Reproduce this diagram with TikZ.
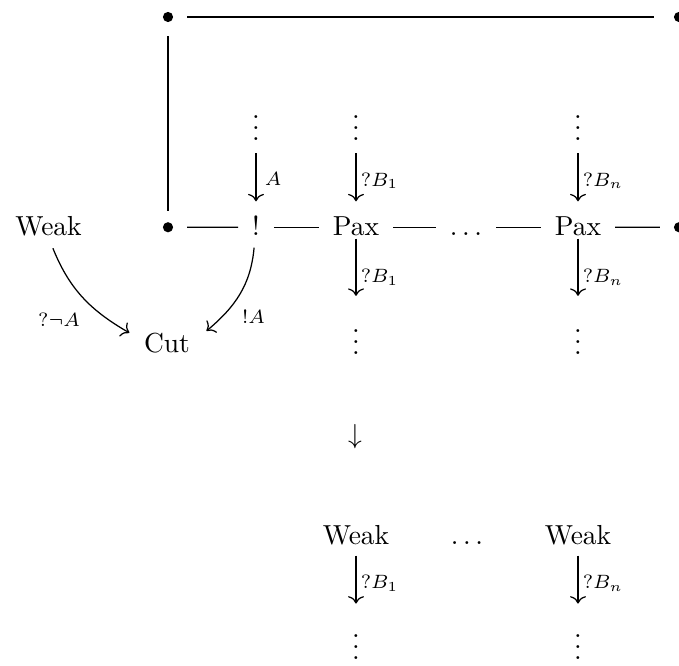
\documentclass[tikz,border=0pt]{standalone}
\usetikzlibrary{arrows.meta}
\newcommand{\vdt}{\vbox{\baselineskip4pt\lineskiplimit0pt\hbox{.}\hbox{.}\hbox{.}}}
\begin{document}
\begin{tikzpicture}[x=0.3636pt, y=-0.3636pt, line width=0.45pt,
  lbl/.style={inner sep=0pt, anchor=base},
  rowtxt/.style={inner sep=0pt, anchor=base, text height=6pt, text depth=0pt},
  dotn/.style={circle, fill, inner sep=0pt, minimum size=3.7pt},
  vd/.style={inner sep=0pt, anchor=south},
  ln/.style={shorten <=4.9pt, shorten >=4.9pt},
  ar/.style={-{Computer Modern Rightarrow[length=2.7pt, width=5.8pt]}},
  upar/.style={ar, shorten <=4.4pt, shorten >=6.2pt},
  loar/.style={ar, shorten <=0.9pt, shorten >=12pt},
  btar/.style={ar, shorten <=3.8pt, shorten >=11pt},
  tag/.style={right, inner sep=1.5pt}]
\useasboundingbox (0,0) rectangle (679,666);
% top row
\node[dotn] (t1) at (168,17) {};
\node[dotn] (t2) at (679,17) {};
% upper vdots
\node[vd] (u0) at (256,141) {\vdt};
\node[vd] (u1) at (356,141) {\vdt};
\node[vd] (u2) at (578,141) {\vdt};
% middle row
\node[lbl] (wl) at (48.5,235.5) {Weak};
\node[dotn] (m0) at (168,227.25) {};
\node[rowtxt] (bang) at (256,235.5) {!};
\node[rowtxt] (p1) at (356,235.5) {Pax};
\node[rowtxt] (md) at (466,235.5) {$\dots$};
\node[rowtxt] (p2) at (578,235.5) {Pax};
\node[dotn] (m6) at (679,227.25) {};
% cut and lower vdots
\node[lbl] (cut) at (167,353) {Cut};
\node[vd] (l1) at (356,355) {\vdt};
\node[vd] (l2) at (578,355) {\vdt};
% labels of curved arrows
\node[lbl] (lw) at (59,327) {$\scriptstyle ?\neg A$};
\node[lbl] (lb) at (253.5,324) {$\scriptstyle !A$};
% middle down arrow
\node[inner sep=0pt] (da) at (355,436.5) {$\downarrow$};
% bottom row
\node[rowtxt] (w1) at (356,544.5) {Weak};
\node[rowtxt] (bd) at (467,544.5) {$\dots$};
\node[rowtxt] (w2) at (578,544.5) {Weak};
\node[vd] (b1) at (356,660) {\vdt};
\node[vd] (b2) at (578,660) {\vdt};

% lines
\draw[shorten <=4.9pt, shorten >=6.9pt] (t1) -- (t2);
\draw[shorten <=4.9pt, shorten >=4pt] (t1) -- (m0);
\draw[ln] (m0.east) -- (bang.west);
\draw[ln] (bang.east) -- (p1.west);
\draw[ln] (p1.east) -- (md.west);
\draw[ln] (md.east) -- (p2.west);
\draw[ln] (p2.east) -- (m6.west);

% vertical arrows
\draw[upar] (u0) -- node[pos=0.49, right, inner sep=3pt] {$\scriptstyle A$} (bang);
\draw[upar] (u1) -- node[tag, pos=0.516] {$\scriptstyle ?B_1$} (p1);
\draw[upar] (u2) -- node[tag, pos=0.516] {$\scriptstyle ?B_n$} (p2);
\draw[loar] (p1.south) -- node[tag, pos=0.444] {$\scriptstyle ?B_1$} (l1.north);
\draw[loar] (p2.south) -- node[tag, pos=0.444] {$\scriptstyle ?B_n$} (l2.north);
\draw[btar] (w1.south) -- node[tag, pos=0.43] {$\scriptstyle ?B_1$} (b1.north);
\draw[btar] (w2.south) -- node[tag, pos=0.43] {$\scriptstyle ?B_n$} (b2.north);

% curved arrows
\draw[ar] ([xshift=1.6pt,yshift=-4.2pt]wl.south) to[out=-68, in=150] ([xshift=-5.1pt,yshift=3.9pt]cut.west);
\draw[ar] ([xshift=-0.7pt,yshift=-4.2pt]bang.south) to[out=-95, in=40] ([xshift=5.8pt,yshift=4.6pt]cut.east);
\end{tikzpicture}
\end{document}
